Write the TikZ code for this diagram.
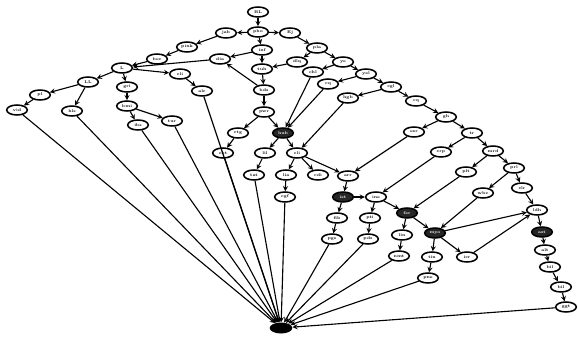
\documentclass[tikz,border=0pt]{standalone}
\usetikzlibrary{shapes.geometric}

\tikzset{
  vx/.style={ellipse, draw=black, line width=1.3pt, fill=white,
    minimum width=0.62cm, minimum height=0.3cm, inner sep=0pt,
    font=\fontsize{3.4}{4}\selectfont\bfseries},
  vxdark/.style={vx, fill=black!85, text=white},
  edge/.style={->, >=stealth, line width=0.95pt, black},
}

\begin{document}
\begin{tikzpicture}[x=0.03cm, y=-0.03cm]
\useasboundingbox (0,0) rectangle (579,340);

% =====================================================================
% Top cluster and left arm  (coordinates in pixels, y downwards)
% =====================================================================
\foreach \n/\x/\y/\t in {A/258/12/BL, B/258/32/pho, C/226/33/jab, D/290/33/Ej,
    E/262/50/inf, F/262/69/tuh, G/264/90/bds, H/187/47/pink, I/157/59/bec,
    J/122/68/L, K/88/82/LL, L/40/95/pl, M/17/110/vid, N/72/111/hls,
    O/127/87/gri, P/127/106/bmi, Q/138/125/ibs, R/172/121/tur,
    S/220/59/dia, T/180/74/cli, U/202/91/alc, V/264/112/pwr, X/238/133/ctg}{
  \node[vx] (\n) at (\x,\y) {\t};
}

% =====================================================================
% Middle block
% =====================================================================
\foreach \n/\x/\y/\t in {Z1/223/153/cbt, Z2/265/153/lil, Z3/297/153/cli,
    Z4/254/175/tat, Z5/286/175/lia, Z6/318/175/cdi, Z7/348/176/arr,
    Z8/285/197/cgf, Z10/376/197/ine, Z11/337/218/fib, Z12/370/218/pti,
    Z14/332/239/pgs, Z15/368/239/pds, Z16/402/235/lin, Z17/399/256/nmt,
    Z18/432/257/tin, Z19/428/278/pne, P2/467/257/icr}{
  \node[vx] (\n) at (\x,\y) {\t};
}
% crowded labels print as dark blobs
\foreach \n/\x/\y/\t in {W/283/133/hub, Z9/343/197/ist, Z13/407/213/fer,
    Y2/435/233/myo, E12/542/232/ast}{
  \node[vxdark] (\n) at (\x,\y) {\t};
}

% =====================================================================
% Right spine and its side nodes
% =====================================================================
\foreach \n/\x/\y/\t in {D2/317/48/pla, dlq/297/62/dlq, E2/343/62/ye,
    E3/366/74/yel, E4/391/87/cgl, E5/416/101/cq, E6/446/117/gh,
    E7/472/133/tr, E8/493/151/mrd, E9/514/168/prl, E10/522/188/clr,
    E11/537/210/ldh, E13/545/250/alt, E14/550/267/bil, E15/561/287/bil,
    E16/566/307/ggt, N1/313/72/chl, N2/328/84/cq, N3/348/98/hgb,
    N5/414/132/esr, N6/441/152/crp, N7/466/172/plt, N8/483/193/wbc}{
  \node[vx] (\n) at (\x,\y) {\t};
}

% sink
\node[ellipse, fill=black, minimum width=0.68cm, minimum height=0.33cm,
  inner sep=0pt] (sink) at (281,328) {};

% =====================================================================
% Edges
% =====================================================================
\foreach \a/\b in {A/B, B/C, B/D, B/E, E/F, F/G, C/H, H/I, I/J, J/K, K/L,
    L/M, K/N, J/O, O/P, P/Q, P/R, J/T, T/U, E/S, G/S, S/J, G/V, V/X, V/W,
    X/Z1, W/Z2, W/Z3, Z2/Z4, Z3/Z5, Z5/Z8, Z3/Z6, Z3/Z7, Z7/Z9, Z9/Z10,
    Z9/Z11, Z10/Z12, Z10/Z13, Z11/Z14, Z12/Z15, Z13/Z16, Z16/Z17, Z13/Y2,
    Y2/Z18, Z18/Z19, Y2/P2, Y2/E11, P2/E11}{
  \draw[edge] (\a) -- (\b);
}

% spine
\foreach \a/\b in {D/D2, D2/dlq, dlq/F, D2/E2, E2/E3, E3/E4, E4/E5, E5/E6,
    E6/E7, E7/E8, E8/E9, E9/E10, E10/E11, E11/E12, E12/E13, E13/E14,
    E14/E15, E15/E16}{
  \draw[edge] (\a) -- (\b);
}

% side branches, long diagonals
\foreach \a/\b in {E2/N1, E3/N2, E4/N3, E6/N5, E7/N6, E8/N7, E9/N8,
    N1/W, N2/W, N3/Z3, N5/Z7, N6/Z10, N7/Z13, N8/Y2}{
  \draw[edge] (\a) -- (\b);
}

% =====================================================================
% Fan into the sink
% =====================================================================
\foreach \a in {M, N, Q, R, U, Z1, Z4, Z8, Z14, Z15, Z17, Z19, E16}{
  \draw[edge] (\a) -- (sink);
}

\end{tikzpicture}
\end{document}
